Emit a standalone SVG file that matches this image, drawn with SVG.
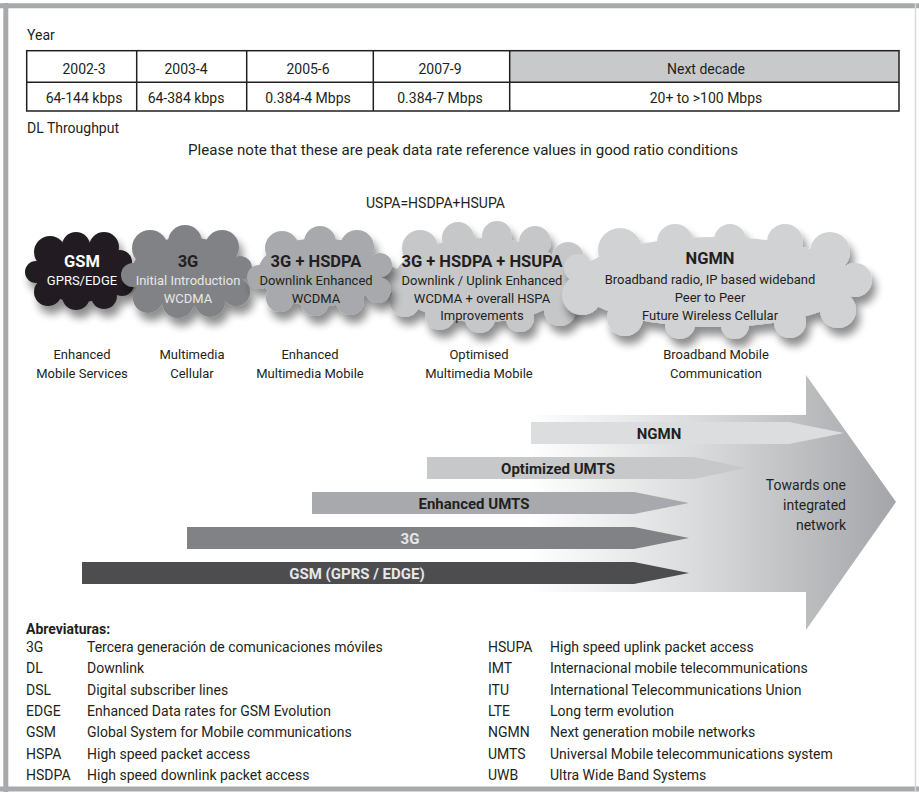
<svg xmlns="http://www.w3.org/2000/svg" width="919" height="792" viewBox="0 0 919 792">
<style>
.t{font-family:Roboto,"Liberation Sans",sans-serif;font-size:14px;fill:#231f20}
.c{text-anchor:middle}
.r{text-anchor:end}
.b{font-weight:bold}
.sub{font-size:13px}
.ttl{font-size:16.5px;font-weight:bold}
.bar{font-size:15px;font-weight:bold}
.w{fill:#ffffff}
.lw{fill:#e6e7e8}
.cell{fill:none;stroke:#231f20;stroke-width:1.5}
</style>
<defs>
<filter id="sh" x="-20%" y="-20%" width="150%" height="160%">
<feGaussianBlur in="SourceAlpha" stdDeviation="4"/>
<feOffset dx="4" dy="8" result="o"/>
<feComponentTransfer><feFuncA type="linear" slope="0.45"/></feComponentTransfer>
<feMerge><feMergeNode/><feMergeNode in="SourceGraphic"/></feMerge>
</filter>
<linearGradient id="big" gradientUnits="userSpaceOnUse" x1="80" y1="0" x2="896" y2="0">
<stop offset="0" stop-color="#ffffff"/>
<stop offset="0.55" stop-color="#ffffff"/>
<stop offset="0.76" stop-color="#d9dadb"/>
<stop offset="1" stop-color="#a3a5a8"/>
</linearGradient>
</defs>
<rect width="919" height="792" fill="#ffffff"/>
<g id="frame">
<line x1="0" y1="5.8" x2="919" y2="5.8" stroke="#a7a9ac" stroke-width="5"/>
<line x1="5.8" y1="3" x2="5.8" y2="792" stroke="#a7a9ac" stroke-width="5"/>
<line x1="0" y1="789" x2="919" y2="789" stroke="#a7a9ac" stroke-width="5"/>
<line x1="915.5" y1="3" x2="915.5" y2="792" stroke="#d8d9da" stroke-width="1.5"/>
</g>
<g id="table">
<rect x="509.7" y="50.7" width="389.3" height="31.6" fill="#c8c9cb"/>
<rect class="cell" x="26.7" y="50.7" width="872.3" height="60.3"/>
<line class="cell" x1="26.7" y1="82.3" x2="899" y2="82.3"/>
<line class="cell" x1="136.7" y1="50.7" x2="136.7" y2="111"/>
<line class="cell" x1="246.7" y1="50.7" x2="246.7" y2="111"/>
<line class="cell" x1="373.3" y1="50.7" x2="373.3" y2="111"/>
<line class="cell" x1="509.7" y1="50.7" x2="509.7" y2="111"/>
<text class="t" x="27" y="40">Year</text>
<text class="t c" x="84" y="74">2002-3</text>
<text class="t c" x="186" y="74">2003-4</text>
<text class="t c" x="308" y="74">2005-6</text>
<text class="t c" x="440" y="74">2007-9</text>
<text class="t c" x="706" y="74">Next decade</text>
<text class="t c" x="84" y="103">64-144 kbps</text>
<text class="t c" x="186" y="103">64-384 kbps</text>
<text class="t c" x="308" y="103">0.384-4 Mbps</text>
<text class="t c" x="440" y="103">0.384-7 Mbps</text>
<text class="t c" x="706" y="103">20+ to &gt;100 Mbps</text>
<text class="t" x="27" y="133">DL Throughput</text>
<text class="t" x="188" y="155" textLength="550" lengthAdjust="spacingAndGlyphs">Please note that these are peak data rate reference values in good ratio conditions</text>
<text class="t" x="366" y="208">USPA=HSDPA+HSUPA</text>
</g>
<g id="arrow-main">
<polygon points="80,415 806,415 806,375 896,502 806,630 806,592 80,592" fill="url(#big)"/>
<text class="t r" x="846" y="490" fill="#333">Towards one</text>
<text class="t r" x="846" y="510" fill="#333">integrated</text>
<text class="t r" x="846" y="530" fill="#333">network</text>
</g>
<g id="connectors">
<g id="bar-ngmn"><polygon points="531,422 789,422 844,433 789,444 531,444" fill="#dcddde"/><text class="t c bar" x="659" y="438.5">NGMN</text></g>
<g id="bar-opt"><polygon points="427,457 694,457 746,468 694,479 427,479" fill="#c7c8ca"/><text class="t c bar" x="558" y="473.5">Optimized UMTS</text></g>
<g id="bar-enh"><polygon points="312,492 634,492 689,503 634,514 312,514" fill="#a7a9ac"/><text class="t c bar" x="474" y="508.5">Enhanced UMTS</text></g>
<g id="bar-3g"><polygon points="187,527 634,527 689,538 634,549 187,549" fill="#808285"/><text class="t c bar lw" x="410" y="543.5">3G</text></g>
<g id="bar-gsm"><polygon points="82,562 634,562 689,573 634,584 82,584" fill="#4d4d4f"/><text class="t c bar lw" x="357" y="578.5">GSM (GPRS / EDGE)</text></g>
</g>
<g id="cloud-gsm">
<g filter="url(#sh)" fill="#231f20">
<ellipse cx="80" cy="272" rx="46" ry="30"/>
<circle cx="50" cy="252" r="16"/><circle cx="76" cy="246" r="14"/><circle cx="104" cy="247" r="15"/>
<circle cx="120" cy="262" r="12"/><circle cx="122" cy="284" r="12"/><circle cx="104" cy="296" r="13"/>
<circle cx="76" cy="296" r="14"/><circle cx="48" cy="292" r="14"/><circle cx="36" cy="272" r="11"/>
</g>
<text class="t c ttl w" x="82" y="267">GSM</text>
<text class="t c sub w" x="82" y="285">GPRS/EDGE</text>
</g>
<g id="cloud-3g">
<g filter="url(#sh)" fill="#808285">
<ellipse cx="187" cy="272" rx="55" ry="35"/>
<circle cx="150" cy="248" r="18"/><circle cx="185" cy="242" r="17"/><circle cx="222" cy="247" r="17"/>
<circle cx="240" cy="268" r="12"/><circle cx="236" cy="292" r="14"/><circle cx="210" cy="302" r="15"/>
<circle cx="178" cy="302" r="16"/><circle cx="148" cy="298" r="15"/><circle cx="133" cy="275" r="12"/>
</g>
<text class="t c ttl" x="188" y="267" fill="#f1f1f2">3G</text>
<text class="t c sub lw" x="188" y="285">Initial Introduction</text>
<text class="t c sub lw" x="188" y="302.5">WCDMA</text>
</g>
<g id="cloud-hsupa">
<g filter="url(#sh)" fill="#c6c7c9">
<ellipse cx="482" cy="280" rx="88" ry="42"/>
<circle cx="420" cy="248" r="18"/><circle cx="458" cy="238" r="16"/><circle cx="497" cy="236" r="15"/>
<circle cx="535" cy="242" r="16"/><circle cx="568" cy="258" r="16"/><circle cx="576" cy="288" r="12"/>
<circle cx="560" cy="310" r="16"/><circle cx="520" cy="318" r="14"/><circle cx="480" cy="318" r="15"/>
<circle cx="440" cy="315" r="15"/><circle cx="405" cy="302" r="15"/><circle cx="390" cy="280" r="13"/>
</g>
<text class="t c ttl" x="482" y="267">3G + HSDPA + HSUPA</text>
<text class="t c sub" x="482" y="285">Downlink / Uplink Enhanced</text>
<text class="t c sub" x="482" y="302.5">WCDMA + overall HSPA</text>
<text class="t c sub" x="482" y="320">Improvements</text>
</g>
<g id="cloud-hsdpa">
<g filter="url(#sh)" fill="#a7a9ac">
<ellipse cx="320" cy="272" rx="62" ry="34"/>
<circle cx="282" cy="248" r="17"/><circle cx="320" cy="242" r="16"/><circle cx="357" cy="247" r="17"/>
<circle cx="380" cy="265" r="12"/><circle cx="378" cy="290" r="13"/><circle cx="350" cy="301" r="14"/>
<circle cx="315" cy="302" r="14"/><circle cx="280" cy="298" r="14"/><circle cx="259" cy="277" r="12"/>
</g>
<text class="t c ttl" x="316" y="267">3G + HSDPA</text>
<text class="t c sub" x="316" y="285">Downlink Enhanced</text>
<text class="t c sub" x="316" y="302.5">WCDMA</text>
</g>
<g id="cloud-ngmn">
<g filter="url(#sh)" fill="#d1d2d4">
<ellipse cx="715" cy="282" rx="140" ry="45"/>
<circle cx="620" cy="250" r="22"/><circle cx="675" cy="242" r="18"/><circle cx="730" cy="240" r="16"/>
<circle cx="785" cy="242" r="18"/><circle cx="830" cy="252" r="20"/><circle cx="855" cy="280" r="17"/>
<circle cx="838" cy="310" r="18"/><circle cx="790" cy="322" r="16"/><circle cx="735" cy="325" r="14"/>
<circle cx="680" cy="324" r="15"/><circle cx="625" cy="318" r="18"/><circle cx="582" cy="295" r="20"/>
<circle cx="578" cy="268" r="14"/>
</g>
<text class="t c ttl" x="710" y="264">NGMN</text>
<text class="t c sub" x="710" y="283.5">Broadband radio, IP based wideband</text>
<text class="t c sub" x="710" y="302">Peer to Peer</text>
<text class="t c sub" x="710" y="320">Future Wireless Cellular</text>
</g>
<g id="labels">
<text class="t c sub" x="82" y="359">Enhanced</text>
<text class="t c sub" x="82" y="378">Mobile Services</text>
<text class="t c sub" x="192" y="359">Multimedia</text>
<text class="t c sub" x="192" y="378">Cellular</text>
<text class="t c sub" x="310" y="359">Enhanced</text>
<text class="t c sub" x="310" y="378">Multimedia Mobile</text>
<text class="t c sub" x="479" y="359">Optimised</text>
<text class="t c sub" x="479" y="378">Multimedia Mobile</text>
<text class="t c sub" x="716" y="359">Broadband Mobile</text>
<text class="t c sub" x="716" y="378">Communication</text>
</g>
<g id="abbreviations">
<text class="t b" x="26" y="634" font-size="15">Abreviaturas:</text>
<text class="t" x="26" y="652">3G</text><text class="t" x="87" y="652">Tercera generación de comunicaciones móviles</text>
<text class="t" x="26" y="673.3">DL</text><text class="t" x="87" y="673.3">Downlink</text>
<text class="t" x="26" y="694.6">DSL</text><text class="t" x="87" y="694.6">Digital subscriber lines</text>
<text class="t" x="26" y="716">EDGE</text><text class="t" x="87" y="716">Enhanced Data rates for GSM Evolution</text>
<text class="t" x="26" y="737.3">GSM</text><text class="t" x="87" y="737.3">Global System for Mobile communications</text>
<text class="t" x="26" y="758.6">HSPA</text><text class="t" x="87" y="758.6">High speed packet access</text>
<text class="t" x="26" y="780">HSDPA</text><text class="t" x="87" y="780">High speed downlink packet access</text>
<text class="t" x="488" y="652">HSUPA</text><text class="t" x="550" y="652">High speed uplink packet access</text>
<text class="t" x="488" y="673.3">IMT</text><text class="t" x="550" y="673.3">Internacional mobile telecommunications</text>
<text class="t" x="488" y="694.6">ITU</text><text class="t" x="550" y="694.6">International Telecommunications Union</text>
<text class="t" x="488" y="716">LTE</text><text class="t" x="550" y="716">Long term evolution</text>
<text class="t" x="488" y="737.3">NGMN</text><text class="t" x="550" y="737.3">Next generation mobile networks</text>
<text class="t" x="488" y="758.6">UMTS</text><text class="t" x="550" y="758.6">Universal Mobile telecommunications system</text>
<text class="t" x="488" y="780">UWB</text><text class="t" x="550" y="780">Ultra Wide Band Systems</text>
</g>
</svg>
